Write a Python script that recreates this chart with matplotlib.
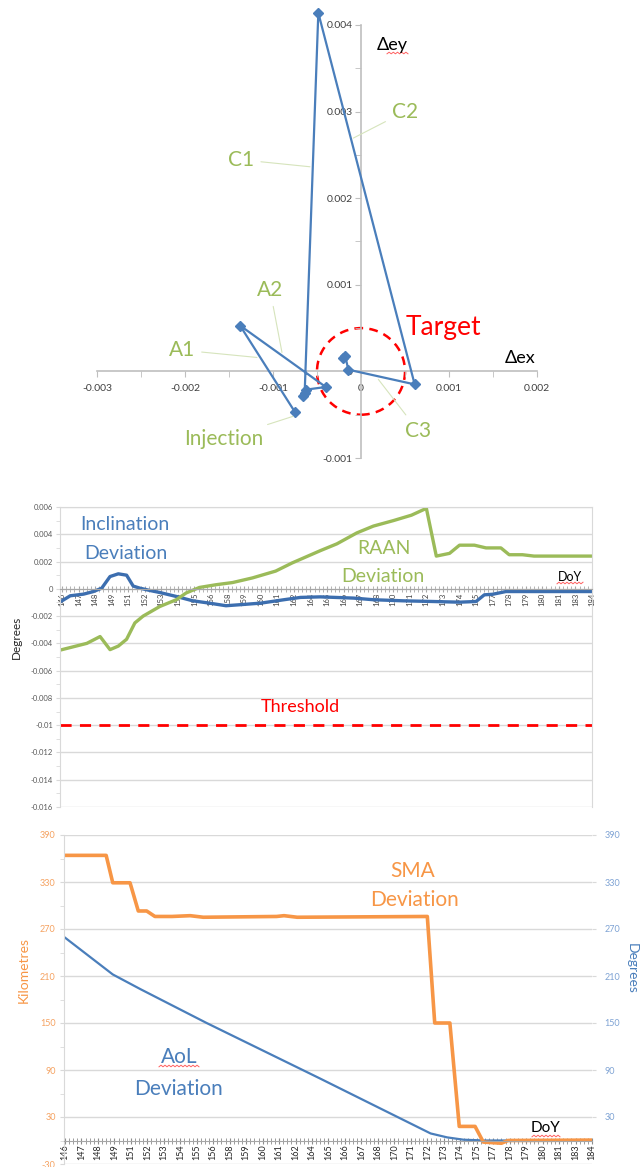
import numpy as np
import matplotlib
matplotlib.use('Agg')
import matplotlib.pyplot as plt
from matplotlib.patches import Ellipse
from matplotlib.lines import Line2D
from matplotlib.ticker import MultipleLocator

plt.rcParams['font.family'] = ['Lato', 'DejaVu Sans']

W, H = 644, 1167

BLEU = '#4A7EBB'
BLEU_F = '#3C6EAF'
VERT = '#9BBB59'
ORANGE = '#F79646'
ROUGE = '#FF0000'
GRIS = '#BFBFBF'
GRILLE = '#D9D9D9'

# ==========================================================
# Panneau 1 : vecteur excentricite (delta ex / delta ey)
# ==========================================================
ex_pts = [-0.00075, -0.001375, -0.0004, -0.00062, -0.00066, -0.00064,
          -0.000485, 0.00061, -0.000144, -0.00018, -0.0002]
ey_pts = [-0.00047, 0.00053, -0.00018, -0.00021, -0.00028, -0.000245,
          0.00414, -0.00015, 0.00002, 0.00018, 0.00016]
ecc_ticks_x = [-0.003, -0.002, -0.001, 0.0, 0.001, 0.002]
ecc_lbl_x = ['-0.003', '-0.002', '-0.001', '0', '0.001', '0.002']
ecc_ticks_y = [-0.001, 0.0, 0.001, 0.002, 0.003, 0.004]
ecc_lbl_y = ['-0.001', '0', '0.001', '0.002', '0.003', '0.004']
target_radius = 0.0005

man_names = ['Injection', 'A1', 'A2', 'C1', 'C2', 'C3']
man_text_x = [-0.001557, -0.002038, -0.001034, -0.001364, 0.0005, 0.000651]
man_text_y = [-0.000776, 0.000246, 0.000945, 0.002444, 0.003, -0.000688]
man_tip_x = [-0.000773, -0.001182, -0.000898, -0.00058, -0.0000875, 0.000197]
man_tip_y = [-0.000519, 0.000161, 0.000219, 0.002363, 0.002694, -0.000092]

# ==========================================================
# Panneaux 2 et 3 : jours de l'annee (axe categoriel)
# ==========================================================
doy_labels = ['146', '147', '148', '149', '151', '152', '153', '154', '155', '156',
              '158', '159', '160', '161', '162', '164', '165', '166', '167', '168',
              '170', '171', '172', '173', '174', '175', '177', '178', '179', '180',
              '181', '183', '184']

incl_x = [0, 0.5, 1.3, 1.9, 2.4, 2.9, 3.4, 3.9, 4.3, 4.7, 5.3, 5.9, 6.9, 7.9, 8.9,
          9.9, 10.7, 12.0, 13.4, 14.4, 15.6, 17.6, 18.8, 20.6, 22.4, 24.0, 25.0,
          25.5, 26.0, 26.8, 27.6, 32]
incl_y = [-0.00088, -0.00051, -0.00039, -0.0002, 0.00005, 0.0009, 0.0011, 0.001,
          0.0002, 0.00005, -0.00012, -0.00027, -0.00056, -0.00088, -0.00105,
          -0.00124, -0.00117, -0.00105, -0.0008, -0.00063, -0.00059, -0.00068,
          -0.0008, -0.00088, -0.00093, -0.00098, -0.00093, -0.00044, -0.0004,
          -0.0002, -0.0002, -0.0002]

raan_x = [0, 1.5, 2.3, 2.9, 3.4, 3.9, 4.4, 4.9, 5.9, 6.9, 7.5, 8.3, 9.3, 10.3, 11.5,
          12.9, 13.9, 15.6, 16.6, 17.8, 18.8, 20.0, 21.1, 22.0, 22.6, 23.4, 24.0,
          24.9, 25.6, 26.5, 27.0, 27.8, 28.5, 32]
raan_y = [-0.00446, -0.004, -0.0035, -0.00446, -0.0042, -0.0037, -0.0025, -0.002,
          -0.0013, -0.0008, -0.0003, 0.0001, 0.0003, 0.00046, 0.0008, 0.0013, 0.0019,
          0.0028, 0.0033, 0.0041, 0.0046, 0.005, 0.0054, 0.0059, 0.0024, 0.0026,
          0.0032, 0.0032, 0.003, 0.003, 0.0025, 0.0025, 0.0024, 0.0024]
threshold = -0.01
deg_ticks_mid = [-0.016, -0.014, -0.012, -0.01, -0.008, -0.006, -0.004, -0.002,
                 0.0, 0.002, 0.004, 0.006]

sma_x = [0, 2.5, 2.9, 3.95, 4.45, 4.96, 5.46, 6.5, 7.6, 8.4, 12.85, 13.3, 14.1,
         22.0, 22.45, 23.37, 23.94, 24.9, 25.4, 26.5, 26.9, 32]
sma_y = [364, 364, 329, 329, 293, 293, 286, 286, 287, 285, 286, 287, 285,
         286, 150, 150, 18, 18, -2, -3.5, 0, 0.5]
aol_x = [0, 2.9, 4.6, 8.6, 15.5, 22.2, 23.2, 24.2, 25.5, 32]
aol_y = [259, 212, 193, 150, 79, 9, 4, 1, 0, 0]
km_ticks = [-30, 30, 90, 150, 210, 270, 330, 390]
deg_ticks = [30, 90, 150, 210, 270, 330, 390]


def px(x, y):
    return x / W, 1 - y / H


def souligne(x0, x1, y):
    # petit soulignement ondule rouge (correcteur orthographique)
    xs = np.linspace(x0, x1, int((x1 - x0) / 2) + 1)
    ys = y + 0.8 * (-1) ** np.arange(len(xs))
    fig.add_artist(Line2D(xs / W, 1 - ys / H, color='#FF6060', lw=0.7))


fig = plt.figure(figsize=(6.44, 11.67), dpi=100)

# ----------------------------------------------------------
# Panneau 1
# ----------------------------------------------------------
ax1 = fig.add_axes([97 / W, 1 - 458 / H, 440 / W, 433 / H])
ax1.set_xlim(-0.003, 0.002)
ax1.set_ylim(-0.001, 0.004)
for s in ['top', 'right']:
    ax1.spines[s].set_visible(False)
for s in ['left', 'bottom']:
    ax1.spines[s].set_position(('data', 0))
    ax1.spines[s].set_color(GRIS)
    ax1.spines[s].set_linewidth(1.2)
ax1.set_xticks(ecc_ticks_x, ecc_lbl_x)
ax1.set_yticks(ecc_ticks_y, ecc_lbl_y)
ax1.xaxis.set_minor_locator(MultipleLocator(0.0005))
ax1.yaxis.set_minor_locator(MultipleLocator(0.0005))
ax1.tick_params(which='both', direction='out', color=GRIS, length=4,
                labelsize=7.5, labelcolor='#404040')
ax1.tick_params(axis='x', pad=5)
ax1.tick_params(axis='y', pad=2)

ax1.add_patch(Ellipse((0, 0), 2 * target_radius, 2 * target_radius, fill=False,
                      ec=ROUGE, ls=(0, (3.5, 2.5)), lw=1.8))
ax1.plot(ex_pts, ey_pts, color=BLEU, lw=1.6, marker='D', ms=5, clip_on=False, zorder=3)

for nom, tx, ty, ux, uy in zip(man_names, man_text_x, man_text_y, man_tip_x, man_tip_y):
    ax1.annotate(nom, xy=(ux, uy), xytext=(tx, ty), ha='center', va='center',
                 fontsize=15, color=VERT, annotation_clip=False,
                 arrowprops=dict(arrowstyle='-', color='#D6E4BC', lw=0.8,
                                 shrinkA=3, shrinkB=0))

fig.text(*px(443, 327), 'Target', color=ROUGE, fontsize=19, ha='center', va='center')
fig.text(*px(520, 358), 'Δex', color='black', fontsize=13, ha='center', va='center')
fig.text(*px(392, 45), 'Δey', color='black', fontsize=13, ha='center', va='center')
souligne(387, 408, 53)

# ----------------------------------------------------------
# Panneau 2 : inclinaison / RAAN
# ----------------------------------------------------------
ax2 = fig.add_axes([60 / W, 1 - 807 / H, 532 / W, 300 / H])
ax2.set_xlim(-0.12, 32)
ax2.set_ylim(-0.016, 0.006)
ax2.set_yticks(deg_ticks_mid, [f'{v:g}' for v in deg_ticks_mid])
ax2.yaxis.set_minor_locator(MultipleLocator(0.001))
ax2.yaxis.grid(True, color=GRILLE, lw=1)
ax2.set_axisbelow(True)
for s in ['top', 'right', 'left']:
    ax2.spines[s].set_color(GRILLE)
ax2.spines['bottom'].set_position(('data', 0))
ax2.spines['bottom'].set_color('#A6A6A6')
ax2.set_xticks(range(len(doy_labels)), doy_labels, rotation=90)
ax2.xaxis.set_minor_locator(MultipleLocator(0.25))
ax2.tick_params(axis='x', which='both', direction='inout', length=4, color='#A6A6A6',
                labelsize=5.5, labelcolor='#404040', pad=1)
ax2.tick_params(axis='y', which='both', length=3, color=GRILLE, labelsize=5.5,
                labelcolor='#595959', pad=2)

ax2.plot(incl_x, incl_y, color=BLEU_F, lw=2.4, solid_joinstyle='round')
ax2.plot(raan_x, raan_y, color=VERT, lw=2.4, solid_joinstyle='round')
ax2.axhline(threshold, color=ROUGE, ls=(0, (4, 3)), lw=2)

fig.text(*px(125, 525), 'Inclination', color=BLEU, fontsize=14, ha='center', va='center')
fig.text(*px(126, 553), 'Deviation', color=BLEU, fontsize=14, ha='center', va='center')
fig.text(*px(384, 548), 'RAAN', color=VERT, fontsize=14, ha='center', va='center')
fig.text(*px(383, 576), 'Deviation', color=VERT, fontsize=14, ha='center', va='center')
fig.text(*px(300, 707), 'Threshold', color=ROUGE, fontsize=13, ha='center', va='center')
fig.text(*px(570, 577), 'DoY', color='black', fontsize=9, ha='center', va='center')
souligne(557, 583, 583)
fig.text(*px(16, 637), 'Degrees', color='#262626', fontsize=8.5, rotation=90,
         ha='center', va='center')

# ----------------------------------------------------------
# Panneau 3 : SMA / AoL
# ----------------------------------------------------------
ax3 = fig.add_axes([64 / W, 1 - 1164 / H, 528 / W, 329 / H])
ax3.set_xlim(-0.06, 32)
ax3.set_ylim(-30, 390)
ax3.set_yticks(km_ticks, [str(v) for v in km_ticks])
ax3.yaxis.set_minor_locator(MultipleLocator(30))
ax3.yaxis.grid(True, color=GRILLE, lw=1)
ax3.set_axisbelow(True)
for s in ['top', 'right']:
    ax3.spines[s].set_visible(False)
ax3.spines['left'].set_color(GRILLE)
ax3.spines['bottom'].set_position(('data', 0))
ax3.spines['bottom'].set_color('#A6A6A6')
ax3.set_xticks(range(len(doy_labels)), doy_labels, rotation=90)
ax3.xaxis.set_minor_locator(MultipleLocator(0.25))
ax3.tick_params(axis='x', which='both', direction='inout', length=4, color='#8C8C8C',
                labelsize=6.5, labelcolor='#262626', pad=1)
ax3.tick_params(axis='y', which='both', length=3, color=GRILLE, labelsize=6.5,
                labelcolor='#F5A261', pad=3)

ax4 = ax3.twinx()
ax4.set_ylim(-30, 390)
ax4.set_yticks(deg_ticks, [str(v) for v in deg_ticks])
for s in ax4.spines.values():
    s.set_visible(False)
ax4.tick_params(axis='y', length=3, color=GRILLE, labelsize=6.5, labelcolor='#7FA3D4', pad=6)

# AoL en degres (axe droit, meme echelle) et SMA en km
ax3.plot(aol_x, aol_y, color=BLEU, lw=1.6)
ax3.plot(sma_x, sma_y, color=ORANGE, lw=2.6)

fig.text(*px(413, 871), 'SMA', color=ORANGE, fontsize=15, ha='center', va='center')
fig.text(*px(414, 900), 'Deviation', color=ORANGE, fontsize=15, ha='center', va='center')
fig.text(*px(179, 1057), 'AoL', color=BLEU, fontsize=15, ha='center', va='center')
fig.text(*px(179, 1089), 'Deviation', color=BLEU, fontsize=15, ha='center', va='center')
souligne(159, 199, 1066)
fig.text(*px(546, 1128), 'DoY', color='black', fontsize=11, ha='center', va='center')
souligne(532, 560, 1136)
fig.text(*px(24, 970), 'Kilometres', color=ORANGE, fontsize=10, rotation=90,
         ha='center', va='center')
fig.text(*px(632, 968), 'Degrees', color=BLEU, fontsize=10, rotation=270,
         ha='center', va='center')

fig.savefig('out.png', dpi=100)
